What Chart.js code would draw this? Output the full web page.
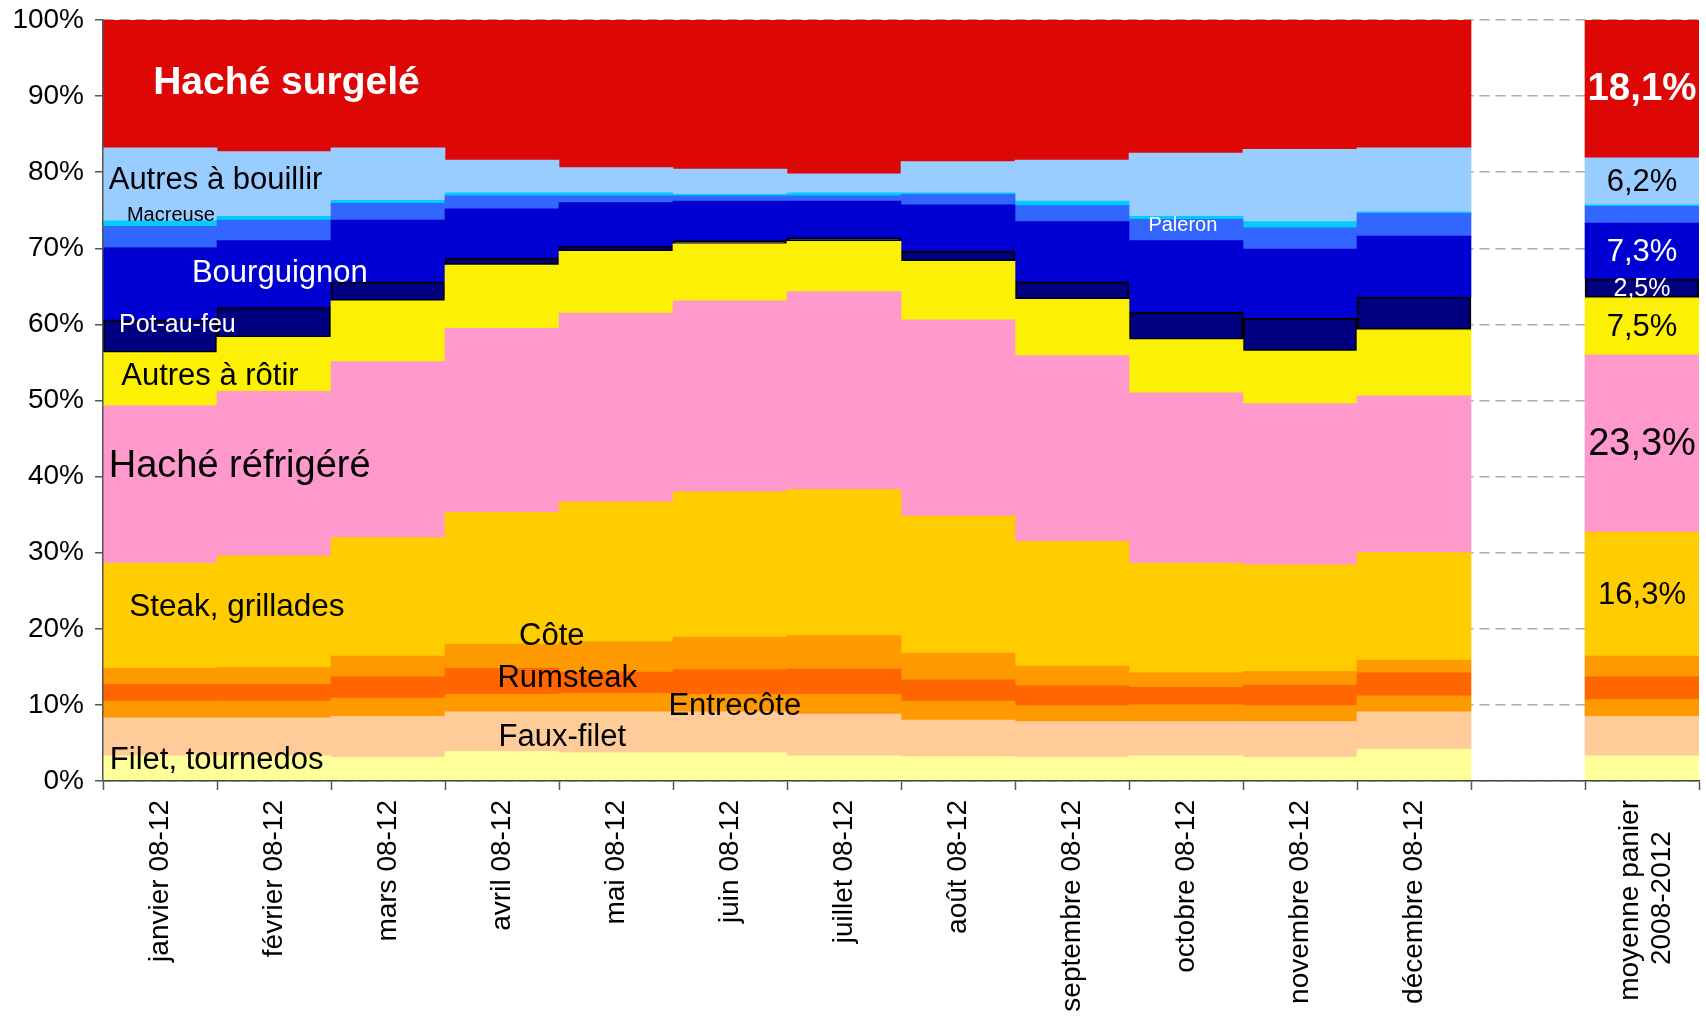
<!DOCTYPE html>
<html lang="fr">
<head>
<meta charset="utf-8">
<title>Panier viande bovine 2008-2012</title>
<script src="https://cdn.jsdelivr.net/npm/chart.js@4.4.1/dist/chart.umd.min.js"></script>
<style>
  html, body { margin: 0; padding: 0; background: #fff; }
  #wrap { width: 1706px; height: 1016px; }
</style>
</head>
<body>
<div id="wrap"><canvas id="panierChart" width="1706" height="1016"></canvas></div>
<script>
// categories (index 12 is the empty gap before the average column)
const categories = [
    'janvier 08-12', 'février 08-12', 'mars 08-12', 'avril 08-12',
    'mai 08-12', 'juin 08-12', 'juillet 08-12', 'août 08-12',
    'septembre 08-12', 'octobre 08-12', 'novembre 08-12', 'décembre 08-12',
    '', ['moyenne panier', '2008-2012\u00A0\u00A0\u00A0\u00A0']
];

// shares in %, bottom of the stack first
const filet          = [3.3, 3.3, 3.1, 3.9, 3.7, 3.7, 3.3, 3.2, 3.1, 3.3, 3.1, 4.2, null, 3.3];
const fauxFilet      = [5.0, 5.0, 5.4, 5.2, 5.4, 5.4, 5.5, 4.8, 4.7, 4.5, 4.7, 4.9, null, 5.2];
const entrecote      = [2.2, 2.2, 2.4, 2.3, 2.4, 2.3, 2.6, 2.5, 2.1, 2.2, 2.1, 2.1, null, 2.2];
const rumsteak       = [2.2, 2.2, 2.8, 3.4, 2.8, 3.2, 3.3, 2.8, 2.6, 2.3, 2.7, 3.0, null, 3.0];
const cote           = [2.1, 2.2, 2.7, 3.2, 4.0, 4.3, 4.4, 3.5, 2.6, 1.9, 1.8, 1.7, null, 2.7];
const steak          = [13.8, 14.7, 15.6, 17.3, 18.4, 19.1, 19.2, 18.0, 16.4, 14.4, 14.0, 14.1, null, 16.3];
const hacheRefrigere = [20.7, 21.6, 23.1, 24.2, 24.8, 25.1, 26.0, 25.8, 24.4, 22.4, 21.2, 20.6, null, 23.3];
const autresRotir    = [7.0, 7.1, 8.0, 8.3, 8.1, 7.5, 6.6, 7.7, 7.4, 7.0, 6.9, 8.7, null, 7.5];
const potAuFeu       = [4.3, 3.9, 2.5, 0.9, 0.7, 0.4, 0.5, 1.3, 2.3, 3.6, 4.3, 4.3, null, 2.5];
const bourguignon    = [9.5, 8.8, 8.1, 6.5, 5.7, 5.2, 4.8, 6.1, 7.9, 9.4, 9.1, 8.0, null, 7.3];
const paleron        = [2.8, 2.7, 2.2, 1.7, 0.9, 0.7, 0.7, 1.4, 2.1, 2.8, 2.8, 3.0, null, 2.2];
const macreuse       = [0.7, 0.5, 0.4, 0.4, 0.4, 0.2, 0.4, 0.2, 0.6, 0.4, 0.8, 0.2, null, 0.2];
const autresBouillir = [9.6, 8.5, 6.9, 4.3, 3.3, 3.3, 2.5, 4.1, 5.4, 8.3, 9.5, 8.4, null, 6.2];
const hacheSurgele   = [16.8, 17.3, 16.8, 18.4, 19.4, 19.6, 20.2, 18.6, 18.4, 17.5, 17.0, 16.8, null, 18.1];

const yTicks = [0, 10, 20, 30, 40, 50, 60, 70, 80, 90, 100];

const FONT = '"Liberation Sans", Arial, sans-serif';

// text written inside the bars: [text, category position of left edge, y value, size, colour, bold]
const inlineLabels = [
    ['Haché surgelé', -0.06, 92.0, 39, '#fff', true],
    ['Autres à bouillir', -0.45, 79.2, 31, '#000', false],
    ['Macreuse', -0.29, 74.6, 20, '#000', false],
    ['Bourguignon', 0.28, 67.0, 31, '#fff', false],
    ['Pot-au-feu', -0.36, 60.2, 25, '#fff', false],
    ['Autres à rôtir', -0.34, 53.4, 31, '#000', false],
    ['Haché réfrigéré', -0.45, 41.6, 38, '#000', false],
    ['Steak, grillades', -0.27, 23.1, 31.5, '#000', false],
    ['Côte', 3.15, 19.3, 31, '#000', false],
    ['Rumsteak', 2.96, 13.8, 31, '#000', false],
    ['Entrecôte', 4.46, 10.0, 31, '#000', false],
    ['Faux-filet', 2.97, 6.0, 31, '#000', false],
    ['Filet, tournedos', -0.44, 3.0, 31, '#000', false],
    ['Paleron', 8.67, 73.3, 20, '#fff', false]
];

// value labels on the average column
const averageLabelStyle = {
    'Haché surgelé': { size: 38.5, color: '#fff', bold: true },
    'Autres à bouillir': { size: 31, color: '#000' },
    'Bourguignon': { size: 31, color: '#fff' },
    'Pot-au-feu': { size: 25, color: '#fff' },
    'Autres à rôtir': { size: 31, color: '#000' },
    'Haché réfrigéré': { size: 38, color: '#000' },
    'Steak, grillades': { size: 31, color: '#000' }
};

function series(label, data, color, extra) {
    return Object.assign({
        label: label,
        data: data,
        backgroundColor: color,
        borderWidth: 0,
        barPercentage: 1,
        categoryPercentage: 1
    }, extra || {});
}

function buildData() {
    return {
        labels: categories,
        datasets: [
            series('Filet, tournedos', filet, '#FFFF99'),
            series('Faux-filet', fauxFilet, '#FFCC99'),
            series('Entrecôte', entrecote, '#FF9900'),
            series('Rumsteak', rumsteak, '#FF6600'),
            series('Côte', cote, '#FF9900'),
            series('Steak, grillades', steak, '#FFCC00'),
            series('Haché réfrigéré', hacheRefrigere, '#FF99CC'),
            series('Autres à rôtir', autresRotir, '#FCF005'),
            series('Pot-au-feu', potAuFeu, '#000080', { borderWidth: 2, borderColor: '#000', borderSkipped: false }),
            series('Bourguignon', bourguignon, '#0000D2'),
            series('Paleron', paleron, '#3366FF'),
            series('Macreuse', macreuse, '#00CCFF'),
            series('Autres à bouillir', autresBouillir, '#99CCFF'),
            series('Haché surgelé', hacheSurgele, '#DD0806')
        ]
    };
}

const labelPlugin = {
    id: 'barTexts',
    beforeDraw(chart) {
        // centre the two-line label of the average column on its tick
        const items = chart.scales.x.getLabelItems(chart.chartArea);
        const last = items[items.length - 1];
        if (last && !last._shifted) {
            last.options.translation[0] -= 12;
            last._shifted = true;
        }
    },
    afterDatasetsDraw(chart) {
        const { ctx } = chart;
        const x = chart.scales.x;
        const y = chart.scales.y;
        const step = x.getPixelForValue(1) - x.getPixelForValue(0);
        const x0 = x.getPixelForValue(0);

        ctx.save();
        ctx.textBaseline = 'middle';
        ctx.textAlign = 'left';
        inlineLabels.forEach(([text, pos, val, size, color, bold]) => {
            ctx.font = (bold ? 'bold ' : '') + size + 'px ' + FONT;
            ctx.fillStyle = color;
            ctx.fillText(text, x0 + pos * step, y.getPixelForValue(val) + 2);
        });

        const last = categories.length - 1;
        ctx.textAlign = 'center';
        chart.data.datasets.forEach((ds, i) => {
            const st = averageLabelStyle[ds.label];
            if (!st) return;
            const bar = chart.getDatasetMeta(i).data[last];
            const c = bar.getCenterPoint();
            ctx.font = (st.bold ? 'bold ' : '') + st.size + 'px ' + FONT;
            ctx.fillStyle = st.color;
            ctx.fillText(ds.data[last].toFixed(1).replace('.', ',') + '%', c.x, c.y + 1);
        });
        ctx.restore();
    }
};

function createChart(ctx, chartData) {
    return new Chart(ctx, {
        type: 'bar',
        data: chartData,
        plugins: [labelPlugin],
        options: {
            responsive: false,
            animation: false,
            events: [],
            devicePixelRatio: 1,
            layout: { padding: { top: 20, right: 7, left: 0, bottom: 0 } },
            plugins: {
                legend: { display: false },
                tooltip: { enabled: false }
            },
            scales: {
                x: {
                    stacked: true,
                    grid: {
                        drawOnChartArea: false,
                        drawTicks: true,
                        tickLength: 9,
                        tickColor: '#555',
                        tickWidth: 1.5,
                        offset: true
                    },
                    border: { display: true, color: '#444', width: 1.5, z: 1 },
                    ticks: {
                        autoSkip: false,
                        minRotation: 90,
                        maxRotation: 90,
                        padding: 10,
                        color: '#000',
                        font: { family: FONT, size: 28, lineHeight: 1.15 }
                    },
                    afterFit(scale) {
                        scale.height = 235;
                        scale.paddingLeft = 0;
                        scale.paddingRight = 0;
                    }
                },
                y: {
                    stacked: true,
                    min: 0,
                    max: 100,
                    afterBuildTicks(scale) {
                        scale.ticks = yTicks.map(v => ({ value: v }));
                    },
                    grid: {
                        color: '#ababab',
                        lineWidth: 1.5,
                        drawTicks: true,
                        tickLength: 8,
                        tickColor: '#555',
                        tickWidth: 1.5,
                        tickBorderDash: []
                    },
                    border: { display: true, color: '#555', width: 1.5, z: 1, dash: [10, 6] },
                    ticks: {
                        padding: 11,
                        color: '#000',
                        font: { family: FONT, size: 28 },
                        callback: v => v + '%'
                    },
                    afterFit(scale) {
                        scale.width = 103;
                        scale.paddingTop = 0;
                        scale.paddingBottom = 0;
                    }
                }
            }
        }
    });
}

document.addEventListener('DOMContentLoaded', () => {
    const ctx = document.getElementById('panierChart').getContext('2d');
    createChart(ctx, buildData());
});
</script>
</body>
</html>
